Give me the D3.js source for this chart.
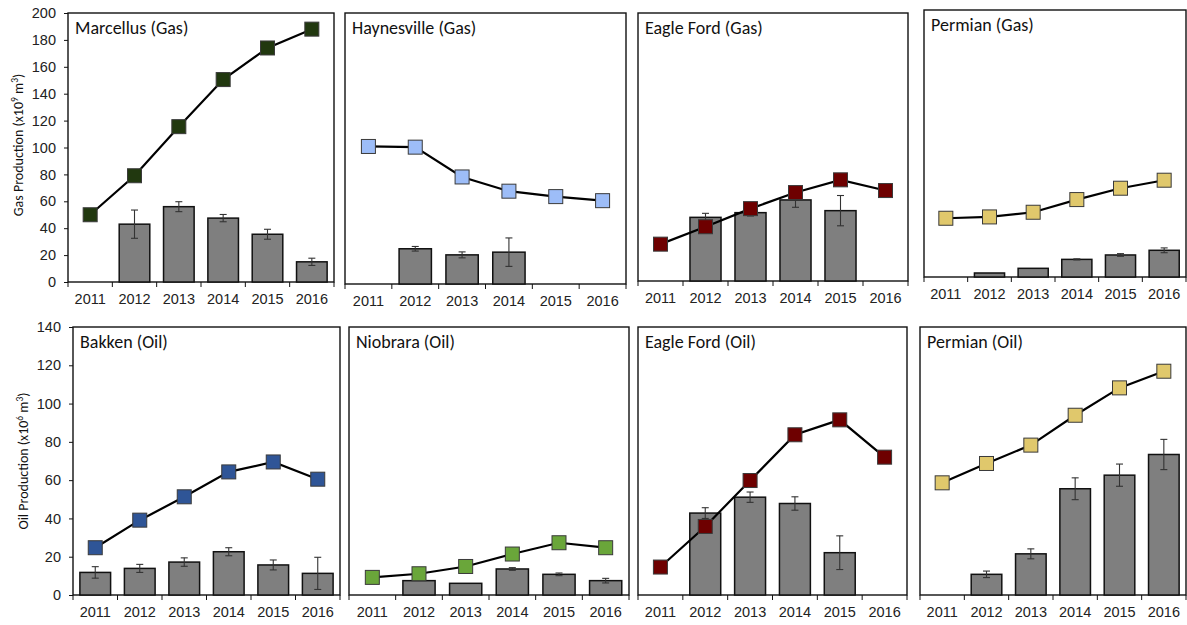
<!DOCTYPE html>
<html>
<head>
<meta charset="utf-8">
<script src="https://cdn.jsdelivr.net/npm/d3@7"></script>
<style>
  html, body { margin: 0; padding: 0; background: #fff; }
  svg { display: block; font-family: Carlito, Calibri, Lato, sans-serif; }
  .tick text { fill: #222; }
</style>
</head>
<body>
<svg id="chart" width="1187" height="625"></svg>
<script>
// Production years shared by every panel
const years = ["2011", "2012", "2013", "2014", "2015", "2016"];
const gasTicks = [0, 20, 40, 60, 80, 100, 120, 140, 160, 180, 200];
const oilTicks = [0, 20, 40, 60, 80, 100, 120, 140];

// Gas plays (x10^9 m^3): total production line, per-well bars with error
const marcellusLine = [50, 79, 115.5, 150.5, 174, 188];
const marcellusBar  = [null, 43, 56, 47.5, 35.5, 15];
const marcellusErr  = [null, 10.5, 3.7, 2.7, 3.7, 2.7];

const haynesvilleLine = [101.5, 101, 79, 68.5, 64.5, 61.5];
const haynesvilleBar  = [null, 26, 21.5, 23.5, null, null];
const haynesvilleErr  = [null, 1.7, 2.2, 10.5, null, null];

const eagleFordGasLine = [27.5, 40.5, 54, 66, 75.5, 67.5];
const eagleFordGasBar  = [null, 47.5, 51, 60.5, 52.5, null];
const eagleFordGasErr  = [null, 3, 2.5, 5.5, 11.3, null];

const permianGasLine = [44, 45, 48.5, 58, 66.5, 72.5];
const permianGasBar  = [null, 3, 6.5, 13.2, 16.5, 20];
const permianGasErr  = [null, 0, 0, 0.4, 1, 1.8];

// Oil plays (x10^6 m^3)
const bakkenLine = [24.7, 39.1, 51.3, 64.3, 69.5, 60.5];
const bakkenBar  = [11.8, 13.9, 17.2, 22.6, 15.7, 11.3];
const bakkenErr  = [3, 2.1, 2.2, 2.1, 2.6, 8.4];

const niobraraLine = [9.2, 11.1, 14.9, 21.4, 27.3, 24.7];
const niobraraBar  = [null, 7.5, 6.1, 13.6, 10.8, 7.5];
const niobraraErr  = [null, 0, 0, 0.7, 0.7, 1.2];

const eagleFordOilLine = [14.6, 35.8, 59.8, 83.7, 91.5, 72];
const eagleFordOilBar  = [null, 42.8, 51.1, 47.8, 22.1, null];
const eagleFordOilErr  = [null, 2.8, 2.7, 3.5, 8.8, null];

const permianOilLine = [58.6, 68.7, 78.3, 93.9, 108.2, 116.9];
const permianOilBar  = [null, 10.8, 21.5, 55.5, 62.6, 73.4];
const permianOilErr  = [null, 1.7, 2.6, 5.7, 5.8, 7.9];

const titles = ["Marcellus (Gas)", "Haynesville (Gas)", "Eagle Ford (Gas)", "Permian (Gas)",
                "Bakken (Oil)", "Niobrara (Oil)", "Eagle Ford (Oil)", "Permian (Oil)"];
const markerColors = ["#21380f", "#9dbdf8", "#6e0000", "#e0c86c",
                      "#2f5597", "#6aa63a", "#6e0000", "#e0c86c"];

// Panel frames (left, top, right, bottom) in page pixels
const frames = [
  [68, 13, 334, 282], [345, 13, 626, 284], [638, 13, 908, 281], [924, 10, 1186, 277],
  [73, 327, 340, 595], [349, 327, 629, 595], [638, 327, 907, 595], [920, 327, 1186, 595]
];

const panels = [
  { line: marcellusLine, bar: marcellusBar, err: marcellusErr, ticks: gasTicks, axis: true },
  { line: haynesvilleLine, bar: haynesvilleBar, err: haynesvilleErr, ticks: gasTicks },
  { line: eagleFordGasLine, bar: eagleFordGasBar, err: eagleFordGasErr, ticks: gasTicks },
  { line: permianGasLine, bar: permianGasBar, err: permianGasErr, ticks: gasTicks },
  { line: bakkenLine, bar: bakkenBar, err: bakkenErr, ticks: oilTicks, axis: true },
  { line: niobraraLine, bar: niobraraBar, err: niobraraErr, ticks: oilTicks },
  { line: eagleFordOilLine, bar: eagleFordOilBar, err: eagleFordOilErr, ticks: oilTicks },
  { line: permianOilLine, bar: permianOilBar, err: permianOilErr, ticks: oilTicks }
].map((p, i) => ({ ...p, title: titles[i], color: markerColors[i], frame: frames[i] }));

const svg = d3.select("#chart");

panels.forEach(p => {
  const [x0, y0, x1, y1] = p.frame;
  const w = x1 - x0, h = y1 - y0;
  const g = svg.append("g").attr("transform", `translate(${x0},${y0})`);

  const x = d3.scaleBand().domain(years).range([0, w]).paddingInner(0.31).paddingOuter(0.155);
  const y = d3.scaleLinear().domain([0, d3.max(p.ticks)]).range([h, 0]);
  const step = x.step();
  const cx = yr => x(yr) + x.bandwidth() / 2;

  // Frame
  g.append("rect").attr("width", w).attr("height", h)
    .attr("fill", "#fff").attr("stroke", "#111").attr("stroke-width", 1.4);

  // Bars
  const rows = years.map((yr, i) => ({ yr, line: p.line[i], bar: p.bar[i], err: p.err[i] }));
  const barRows = rows.filter(d => d.bar != null);
  g.selectAll("rect.bar").data(barRows).join("rect").attr("class", "bar")
    .attr("x", d => x(d.yr)).attr("width", x.bandwidth())
    .attr("y", d => y(d.bar)).attr("height", d => y(0) - y(d.bar))
    .attr("fill", "#7f7f7f").attr("stroke", "#111").attr("stroke-width", 1.5);

  // Error bars
  const errRows = barRows.filter(d => d.err > 0.3);
  const eb = g.selectAll("g.err").data(errRows).join("g").attr("class", "err")
    .attr("stroke", "#333").attr("stroke-width", 1.1);
  eb.append("line").attr("x1", d => cx(d.yr)).attr("x2", d => cx(d.yr))
    .attr("y1", d => y(d.bar + d.err)).attr("y2", d => y(d.bar - d.err));
  eb.append("line").attr("x1", d => cx(d.yr) - 3.5).attr("x2", d => cx(d.yr) + 3.5)
    .attr("y1", d => y(d.bar + d.err)).attr("y2", d => y(d.bar + d.err));
  eb.append("line").attr("x1", d => cx(d.yr) - 3.5).attr("x2", d => cx(d.yr) + 3.5)
    .attr("y1", d => y(d.bar - d.err)).attr("y2", d => y(d.bar - d.err));

  // Production line and square markers
  g.append("path").datum(rows)
    .attr("fill", "none").attr("stroke", "#000").attr("stroke-width", 2.2)
    .attr("d", d3.line().x(d => cx(d.yr)).y(d => y(d.line)));
  const ms = 14;
  g.selectAll("rect.mark").data(rows).join("rect").attr("class", "mark")
    .attr("x", d => cx(d.yr) - ms / 2).attr("y", d => y(d.line) - ms / 2)
    .attr("width", ms).attr("height", ms)
    .attr("fill", p.color).attr("stroke", "#3a3a3a").attr("stroke-width", 1);

  // Category axis: labels under each band, ticks at band boundaries
  const xa = g.append("g").attr("transform", `translate(0,${h})`)
    .call(d3.axisBottom(x).tickSize(0).tickPadding(12));
  xa.select(".domain").remove();
  xa.selectAll("text").attr("font-size", 14.5);
  const bounds = years.map(yr => x(yr) - step * 0.155).concat([w]);
  g.selectAll("line.bound").data(bounds).join("line").attr("class", "bound")
    .attr("x1", d => d).attr("x2", d => d).attr("y1", h).attr("y2", h + 5)
    .attr("stroke", "#111").attr("stroke-width", 1);

  // Value axis on the first panel of each row
  if (p.axis) {
    const ya = g.append("g").call(d3.axisLeft(y).tickValues(p.ticks).tickSize(4).tickPadding(8));
    ya.select(".domain").remove();
    ya.selectAll("line").attr("stroke", "#111");
    ya.selectAll("text").attr("font-size", 14.5);
  }

  // Panel title
  g.append("text").attr("x", 7).attr("y", 21).attr("font-size", 18).attr("fill", "#111")
    .text(p.title);
});

// Row titles for the value axes
function axisTitle(cx, cy, label, exp) {
  const t = svg.append("text").attr("transform", `translate(${cx},${cy}) rotate(-90)`)
    .attr("text-anchor", "middle").attr("font-size", 14).attr("fill", "#111");
  t.append("tspan").text(label + " (x10");
  t.append("tspan").attr("dy", -5).attr("font-size", 9.5).text(exp);
  t.append("tspan").attr("dy", 5).text(" m");
  t.append("tspan").attr("dy", -5).attr("font-size", 9.5).text("3");
  t.append("tspan").attr("dy", 5).text(")");
}
axisTitle(23, 145, "Gas Production", "9");
axisTitle(28, 461, "Oil Production", "6");
</script>
</body>
</html>
